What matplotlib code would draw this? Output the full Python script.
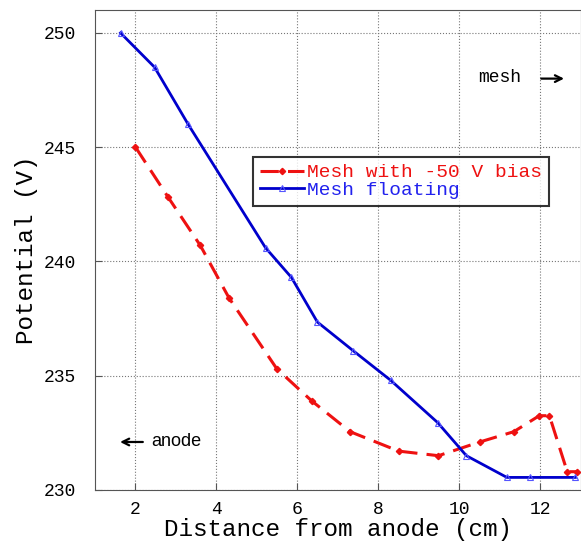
import matplotlib.pyplot as plt

# Mesh floating
x_float = [1.63, 2.47, 3.3, 5.21, 5.85, 6.49, 7.37, 8.3, 9.46, 10.17, 11.17, 11.74, 12.86]
v_float = [250.0, 248.5, 246.0, 240.6, 239.3, 237.35, 236.1, 234.8, 232.95, 231.5, 230.55, 230.55, 230.55]

# Mesh with -50 V bias
x_bias = [2.0, 2.81, 3.6, 4.31, 5.49, 6.35, 7.3, 8.5, 9.48, 10.5, 11.34, 11.97, 12.22, 12.66, 12.9]
v_bias = [245.0, 242.8, 240.7, 238.4, 235.3, 233.9, 232.55, 231.7, 231.5, 232.1, 232.55, 233.25, 233.25, 230.8, 230.8]

mono = "Liberation Mono"

fig = plt.figure(figsize=(5.81, 5.46), dpi=100)
ax = fig.add_axes([0.1635, 0.1026, 0.8365, 0.879])

ax.plot(x_bias, v_bias, color="#ee1111", linestyle=(0, (6, 3)), linewidth=2.2,
        marker="D", markersize=3.2, label="Mesh with -50 V bias")
ax.plot(x_float, v_float, color="#0000cc", linewidth=2.0,
        marker="^", markersize=5, markerfacecolor="none", markeredgecolor="#5555ff",
        markeredgewidth=0.8, label="Mesh floating")

ax.set_xlim(1, 13)
ax.set_ylim(230, 251)
ax.set_xticks([2, 4, 6, 8, 10, 12])
ax.set_yticks([230, 235, 240, 245, 250])
ax.grid(True, color="#777777", linestyle=":", linewidth=0.8)
ax.tick_params(direction="in", length=5, labelsize=13, color="#555555", pad=8)
ax.tick_params(axis="y", pad=14)
for lab in ax.get_xticklabels() + ax.get_yticklabels():
    lab.set_family(mono)
for s in ax.spines.values():
    s.set_color("#555555")

ax.set_xlabel("Distance from anode (cm)", family=mono, fontsize=17.5, labelpad=0)
ax.set_ylabel("Potential (V)", family=mono, fontsize=17.5, labelpad=4)

leg = ax.legend(loc="upper left", bbox_to_anchor=(0.325, 0.694), prop={"family": mono, "size": 14},
                frameon=True, fancybox=False, edgecolor="black", handlelength=2.3,
                handletextpad=0.15, borderpad=0.35, labelspacing=0.0, borderaxespad=0)
leg.get_frame().set_linewidth(1.5)
leg.get_texts()[0].set_color("#ee1111")
leg.get_texts()[1].set_color("#2222ee")

ax.annotate("", xy=(1.55, 232.1), xytext=(2.25, 232.1),
            arrowprops=dict(arrowstyle="->", color="black", lw=1.6, mutation_scale=12))
ax.text(2.4, 232.1, "anode", fontsize=13, family="Liberation Sans", va="center", ha="left")

ax.text(10.45, 248.05, "mesh", fontsize=13, family=mono, va="center", ha="left")
ax.annotate("", xy=(12.65, 248.0), xytext=(11.95, 248.0),
            arrowprops=dict(arrowstyle="->", color="black", lw=1.6, mutation_scale=12))

fig.savefig("out.png", dpi=100)
